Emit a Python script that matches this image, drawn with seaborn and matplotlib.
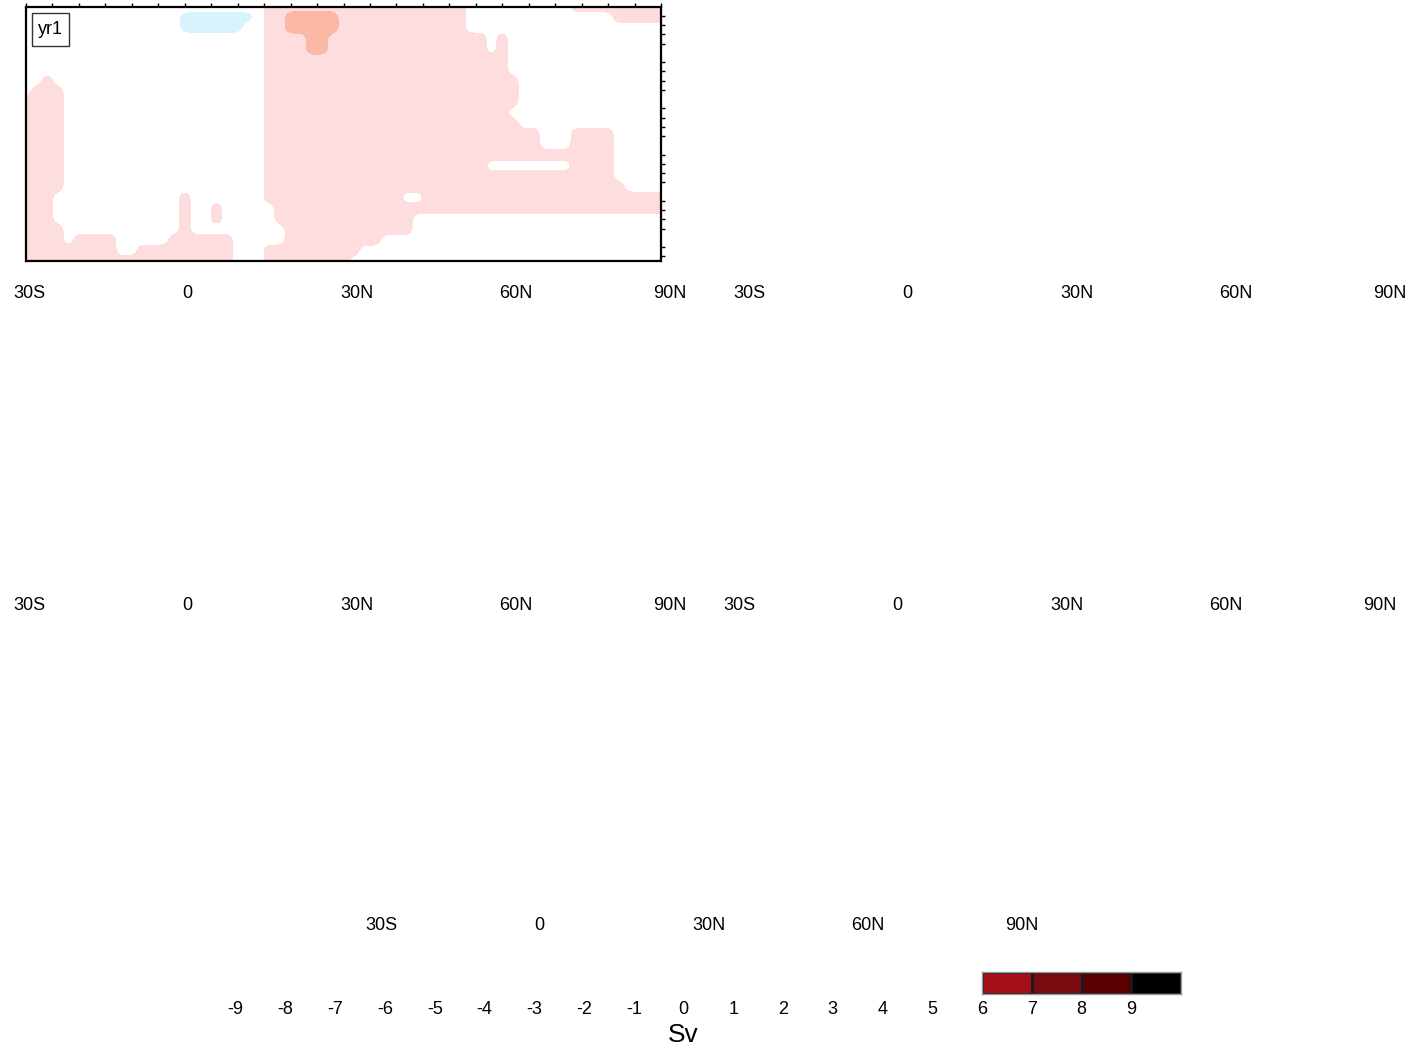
import re
import numpy as np
import pandas as pd
import matplotlib
matplotlib.use("Agg")
import matplotlib.pyplot as plt
from matplotlib.colors import ListedColormap
from matplotlib.patches import Rectangle
import seaborn as sns

# grid of the streamfunction panel (yr1): latitude nodes x depth nodes
lat = np.linspace(-30, 90, 61)
depth = np.linspace(0, 5500, 25)

# run-length coded rows, top (0 m) to bottom (5500 m)
# '.' = white, 'p' = 0..1 Sv, 's' = 1..2 Sv, 'b' = -1..0 Sv
field_rows = [
    "23. 19p 10. 9p",
    "15. 7b 1. 2p 5s 12p 14. 5p",
    "15. 6b 2. 2p 5s 12p 19.",
    "23. 4p 2s 15p 1. 1p 15.",
    "23. 4p 2s 15p 1. 1p 15.",
    "23. 23p 15.",
    "23. 23p 15.",
    "2. 1p 20. 24p 14.",
    "1. 3p 19. 24p 14.",
    "4p 19. 24p 14.",
    "4p 19. 23p 15.",
    "4p 19. 24p 14.",
    "4p 19. 26p 3. 4p 5.",
    "4p 19. 26p 3. 4p 5.",
    "4p 19. 33p 5.",
    "4p 19. 21p 8. 4p 5.",
    "4p 19. 33p 5.",
    "4p 19. 34p 4.",
    "3p 12. 1p 7. 13p 2. 23p",
    "3p 12. 1p 2. 1p 5. 37p",
    "3p 12. 1p 2. 1p 5. 13p 24.",
    "4p 11. 1p 9. 12p 24.",
    "4p 1. 4p 5. 6p 5. 9p 27.",
    "9p 2. 9p 3. 9p 29.",
    "20p 3. 8p 30.",
]
code_value = {".": 0, "p": 1, "s": 2, "b": -1}
fill_levels = [-1.5, -0.5, 0.5, 1.5, 2.5]
fill_colors = ["#d7f3fb", "#ffffff", "#fddddd", "#fbb8a5"]

# x-axis labels of every panel
tick_text = ["30S", "0", "30N", "60N", "90N"]
tick_lat = [-29.4, 0.4, 32.5, 62.6, 91.7]

# colour bar
bar_labels = [str(v) for v in range(-9, 10)]
bar_values = np.arange(-9.5, 10, 1.0)
bar_colors = ["#a51018", "#780a10", "#5a0000", "#000000"]  # boxes 6..10


def decode(row):
    out = []
    for n, c in re.findall(r"(\d+)(\S)", row):
        out += [code_value[c]] * int(n)
    assert len(out) == len(lat), row
    return out


Z = np.array([decode(r) for r in field_rows], dtype=float)

# finer grid + light smoothing so the filled contours are less jagged
lat_f = np.linspace(lat[0], lat[-1], 4 * (len(lat) - 1) + 1)
depth_f = np.linspace(depth[0], depth[-1], 4 * (len(depth) - 1) + 1)
Zf = np.array([np.interp(lat_f, lat, r) for r in Z])
Zf = np.array([np.interp(depth_f, depth, c) for c in Zf.T]).T


def blur(a, axis, k=3):
    pad = [(0, 0), (0, 0)]
    pad[axis] = (k // 2, k // 2)
    a = np.pad(a, pad, mode="edge")
    return np.apply_along_axis(lambda v: np.convolve(v, np.ones(k) / k, mode="valid"), axis, a)


Zf = blur(blur(Zf, 0), 1)

sns.set_style("white")
plt.rcParams["font.family"] = ["Liberation Sans", "DejaVu Sans"]
plt.rcParams["text.color"] = "black"
plt.rcParams["xtick.color"] = "black"
plt.rcParams["ytick.color"] = "black"

W, H = 1420, 1049
fig = plt.figure(figsize=(W / 100, H / 100), dpi=100)


def panel(left, bottom):
    return fig.add_axes([left / W, (H - bottom) / H, 635 / W, 254.5 / H])


def add_labels(ax):
    for t, x in zip(tick_text, tick_lat):
        ax.text(x, -33 / 254.5, t, transform=ax.get_xaxis_transform(),
                ha="center", va="center", fontsize=13, color="black", clip_on=False)


# panel 1 with data
ax = panel(26, 261)
ax.contourf(lat_f, depth_f, Zf, levels=fill_levels, colors=fill_colors)
ax.set_xlim(-30, 90)
ax.set_ylim(5500, 0)
ax.xaxis.set_ticks_position("top")
ax.set_xticks(np.arange(-30, 91, 5))
ax.set_xticklabels([])
ax.set_yticks(np.arange(1000, 5500, 1000))
ax.set_yticks(np.arange(200, 5500, 200), minor=True)
ax.set_yticklabels([])
ax.tick_params(axis="x", which="major", direction="out", length=3, width=1, top=True, bottom=False)
ax.tick_params(axis="y", which="major", direction="in", length=3, width=1, left=True, right=True)
ax.tick_params(axis="y", which="minor", direction="out", length=3, width=1, left=False, right=True)
for s in ax.spines.values():
    s.set_linewidth(1.6)
    s.set_color("black")
ax.add_patch(Rectangle((6 / 635, 215 / 254.5), 37 / 635, 33 / 254.5, transform=ax.transAxes,
                       fc="white", ec="#333333", lw=1, zorder=5))
ax.text(24.5 / 635, 231.5 / 254.5, "yr1", transform=ax.transAxes, ha="center", va="center",
        fontsize=13, zorder=6)
add_labels(ax)

# empty panels
for left, bottom in [(746, 261), (26, 573), (736, 573), (378, 893)]:
    a = panel(left, bottom)
    a.set_xlim(-30, 90)
    a.axis("off")
    add_labels(a)

# colour bar: label axis spans all 20 boxes, only boxes 6..10 are filled
box_w = 995 / len(bar_values)
cb = fig.add_axes([186 / W, (H - 994) / H, 995 / W, 22 / H])
cb.set_xlim(0, len(bar_values))
cb.set_xticks(np.arange(1, len(bar_values)))
cb.set_xticklabels(bar_labels, fontsize=13)
cb.set_yticks([])
cb.tick_params(axis="x", length=0, pad=5)
for s in cb.spines.values():
    s.set_visible(False)

filled = bar_values[bar_values > 6]
cb2 = fig.add_axes([(186 + box_w * (len(bar_values) - len(filled))) / W, (H - 994) / H,
                    box_w * len(filled) / W, 22 / H])
sns.heatmap(pd.DataFrame([filled]), ax=cb2, cmap=ListedColormap(bar_colors), vmin=6, vmax=10,
            cbar=False, linewidths=1, linecolor="#1a1a1a", xticklabels=False, yticklabels=False)
for s in cb2.spines.values():
    s.set_visible(True)
    s.set_color("#9a9a9a")
    s.set_linewidth(1)

fig.text(683 / W, 1 - 1035 / H, "Sv", ha="center", va="center", fontsize=19)

fig.savefig("out.png", dpi=100)
